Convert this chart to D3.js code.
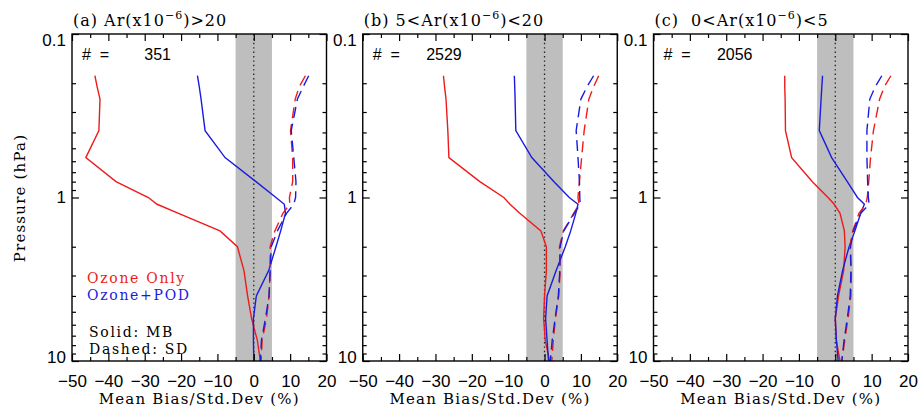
<!DOCTYPE html>
<html>
<head>
<meta charset="utf-8">
<script src="https://cdn.jsdelivr.net/npm/d3@7"></script>
<style>
    body { margin: 0; background: #fff; }
    .tick text { font-family: "Liberation Sans", Arial, sans-serif; font-size: 17px; fill: #000; }
    .lbl { font-family: "DejaVu Serif", serif; fill: #000; white-space: pre; }
    .num { font-family: "Liberation Sans", Arial, sans-serif; font-size: 16px; fill: #000; white-space: pre; }
</style>
</head>
<body>
<div id="chart"></div>
<script>
// pressure levels (hPa), shared by all profiles
const pressure = [0.18, 0.21, 0.25, 0.39, 0.57, 0.8, 1.0, 1.1, 1.25, 1.6, 2.0, 2.8, 4.0, 5.5, 7.5, 10];

// panel labels
const titlePre = ["(a) Ar(x10", "(b) 5<Ar(x10", "(c)  0<Ar(x10"];
const titleSup = "\u22126";
const titlePost = [")>20", ")<20", ")<5"];
const counts = [351, 2529, 2056];

// mean bias (%), one array per panel
const ozoneOnlyMB = [
    [-43.7, -43.1, -42.3, -42.6, -46.2, -37.9, -29.0, -26.6, -20.7, -9.3, -4.5, -2.7, -1.7, -0.6, 1.0, 1.8],
    [-27.8, -27.5, -27.1, -26.6, -26.3, -17.8, -11.2, -9.5, -6.8, -1.0, 0.5, 0.5, 0.0, -0.25, 0.2, 1.4],
    [-13.9, -13.9, -13.8, -13.7, -12.0, -6.3, -2.0, -0.3, 1.3, 2.5, 2.7, 2.3, 0.9, 0.0, 0.3, 1.3]
];
const ozonePodMB = [
    [-15.5, -15.0, -14.5, -13.4, -7.9, 0.6, 6.1, 8.4, 8.7, 7.4, 6.1, 4.1, 0.7, -0.1, -0.1, 0.0],
    [-8.3, -8.2, -8.1, -7.9, -3.5, 2.6, 6.8, 9.2, 8.6, 7.2, 5.7, 3.2, 0.7, 0.3, 0.7, 1.1],
    [-3.5, -3.7, -3.9, -4.4, -1.0, 3.3, 6.1, 8.0, 7.0, 5.4, 3.8, 2.0, 0.6, 0.0, 0.3, 0.8]
];

// standard deviation (%), one array per panel
const ozoneOnlySD = [
    [14.2, 12.5, 11.4, 10.1, 10.7, 10.7, 9.8, 9.9, 8.0, 5.8, 4.5, 4.5, 4.2, 3.5, 2.3, 2.0],
    [14.9, 13.5, 12.2, 10.9, 10.2, 9.6, 9.2, 9.5, 8.0, 5.2, 4.1, 4.3, 3.9, 3.0, 2.4, 2.0],
    [15.3, 13.5, 12.2, 10.5, 9.7, 9.2, 8.8, 8.4, 6.5, 4.8, 4.0, 4.4, 4.3, 3.5, 2.6, 1.8]
];
const ozonePodSD = [
    [15.1, 13.6, 12.0, 10.3, 11.0, 11.6, 11.5, 11.0, 9.0, 6.5, 4.8, 4.5, 4.2, 3.2, 2.1, 1.8],
    [13.5, 11.7, 10.0, 8.7, 9.2, 9.6, 9.7, 9.8, 8.2, 5.3, 4.3, 4.2, 3.8, 2.9, 2.1, 1.6],
    [12.8, 11.0, 9.5, 8.7, 8.7, 8.9, 9.1, 9.3, 7.0, 5.0, 4.2, 4.3, 4.1, 3.3, 2.4, 1.8]
];

const xMajor = [-50, -40, -30, -20, -10, 0, 10, 20];
const xMinor = [-45, -35, -25, -15, -5, 5, 15];
const yMajor = [0.1, 1, 10];
const yMinor = [0.2, 0.3, 0.4, 0.5, 0.6, 0.7, 0.8, 0.9, 2, 3, 4, 5, 6, 7, 8, 9];

const RED = "#ee1b1b", BLUE = "#1b1be0";

const series = [
    { values: ozoneOnlyMB, color: RED, dash: null },
    { values: ozonePodMB, color: BLUE, dash: null },
    { values: ozoneOnlySD, color: RED, dash: "11,6" },
    { values: ozonePodSD, color: BLUE, dash: "11,6" }
];

const W = 919, H = 410;
const left0 = 72, top0 = 34, gap = 290.75;
const pw = 254.5, ph = 327;

const svg = d3.select("#chart")
    .append("svg")
    .attr("width", W)
    .attr("height", H);

// shared y label
svg.append("text")
    .attr("class", "lbl")
    .attr("transform", "translate(25,198) rotate(-90)")
    .attr("text-anchor", "middle")
    .style("font-size", "15px")
    .style("letter-spacing", "1.2px")
    .text("Pressure (hPa)");

const xScale = d3.scaleLinear().domain([-50, 20]).range([0, pw]);
const yScale = d3.scaleLog().domain([0.1, 10]).range([0, ph]);

const line = d3.line()
    .x(d => xScale(d[0]))
    .y(d => yScale(d[1]));

titlePre.forEach((pre, i) => {
    const g = svg.append("g")
        .attr("transform", `translate(${left0 + i * gap},${top0})`);

    // +-5% band
    g.append("rect")
        .attr("x", xScale(-5))
        .attr("width", xScale(5) - xScale(-5))
        .attr("y", 0)
        .attr("height", ph)
        .attr("fill", "#bebebe");

    g.append("line")
        .attr("x1", xScale(0)).attr("x2", xScale(0))
        .attr("y1", 0).attr("y2", ph)
        .attr("stroke", "#222")
        .attr("stroke-width", 1.3)
        .attr("stroke-dasharray", "1.4,3");

    // profiles
    series.forEach(s => {
        g.append("path")
            .attr("d", line(s.values[i].map((v, k) => [v, pressure[k]])))
            .attr("fill", "none")
            .attr("stroke", s.color)
            .attr("stroke-width", 1.4)
            .attr("stroke-dasharray", s.dash);
    });

    // axes, ticks pointing inward
    g.append("g").attr("transform", `translate(0,${ph})`)
        .call(d3.axisBottom(xScale).tickValues(xMajor).tickSize(-7).tickPadding(14));
    g.append("g").attr("transform", `translate(0,${ph})`)
        .call(d3.axisBottom(xScale).tickValues(xMinor).tickSize(-4).tickFormat(""));
    g.append("g")
        .call(d3.axisTop(xScale).tickValues(xMajor).tickSize(-7).tickFormat(""));
    g.append("g")
        .call(d3.axisTop(xScale).tickValues(xMinor).tickSize(-4).tickFormat(""));

    const yl = g.append("g")
        .call(d3.axisLeft(yScale).tickValues(yMajor).tickSize(-7).tickPadding(6).tickFormat(d => d));
    yl.selectAll(".tick text")
        .attr("dy", d => d === 0.1 ? "0.7em" : d === 10 ? "0.1em" : "0.32em");
    g.append("g")
        .call(d3.axisLeft(yScale).tickValues(yMinor).tickSize(-4).tickFormat(""));
    g.append("g").attr("transform", `translate(${pw},0)`)
        .call(d3.axisRight(yScale).tickValues(yMajor).tickSize(-7).tickFormat(""));
    g.append("g").attr("transform", `translate(${pw},0)`)
        .call(d3.axisRight(yScale).tickValues(yMinor).tickSize(-4).tickFormat(""));

    g.selectAll(".domain").remove();
    g.selectAll(".tick line").attr("stroke", "#000").attr("stroke-width", 1.2);

    g.append("rect")
        .attr("width", pw)
        .attr("height", ph)
        .attr("fill", "none")
        .attr("stroke", "#000")
        .attr("stroke-width", 1.4);

    // panel title
    const t = g.append("text")
        .attr("class", "lbl")
        .attr("x", 1)
        .attr("y", -8)
        .style("font-size", "16px")
        .style("letter-spacing", "1px");
    t.append("tspan").text(pre);
    t.append("tspan").attr("dy", -7).style("font-size", "11px").text(titleSup);
    t.append("tspan").attr("dy", 7).text(titlePost[i]);

    // number of profiles
    g.append("text").attr("class", "num").attr("x", 10).attr("y", 26).text("#  =");
    g.append("text").attr("class", "num").attr("x", 99).attr("y", 26)
        .attr("text-anchor", "end").text(counts[i]);

    // x axis title
    g.append("text")
        .attr("class", "lbl")
        .attr("x", pw / 2)
        .attr("y", ph + 43)
        .attr("text-anchor", "middle")
        .style("font-size", "15px")
        .style("letter-spacing", "1.2px")
        .text("Mean Bias/Std.Dev (%)");
});

// legend, first panel only
const legend = [
    { text: "Ozone Only", color: RED, x: 15, y: 249 },
    { text: "Ozone+POD", color: BLUE, x: 15, y: 266 },
    { text: "Solid: MB", color: "#000", x: 17, y: 303 },
    { text: "Dashed: SD", color: "#000", x: 17, y: 320 }
];
const leg = svg.append("g").attr("transform", `translate(${left0},${top0})`);
leg.selectAll("text")
    .data(legend)
    .enter()
    .append("text")
    .attr("class", "lbl")
    .attr("x", d => d.x)
    .attr("y", d => d.y)
    .style("font-size", "14px")
    .style("letter-spacing", "1.7px")
    .style("fill", d => d.color)
    .text(d => d.text);
</script>
</body>
</html>
